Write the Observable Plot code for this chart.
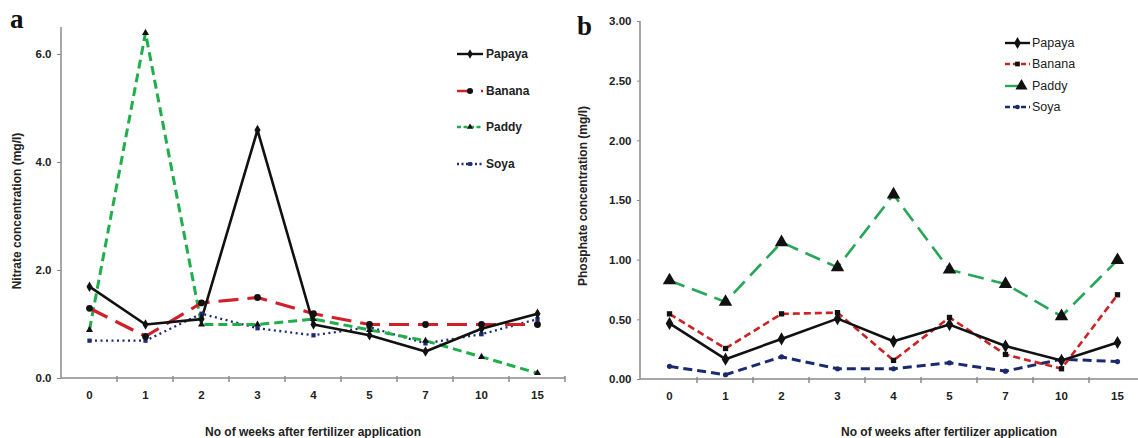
<!DOCTYPE html>
<html><head><meta charset="utf-8">
<script src="https://cdn.jsdelivr.net/npm/d3@7"></script>
<script src="https://cdn.jsdelivr.net/npm/@observablehq/plot@0.6"></script>
<style>
body{margin:0;background:#fff;}
#wrap{position:relative;width:1138px;height:438px;overflow:hidden;background:#fff;}
.panel{position:absolute;top:0;}
.panel svg{max-width:none !important;overflow:visible;}
#overlay{position:absolute;left:0;top:0;pointer-events:none;}
</style></head><body><div id="wrap"></div>
<script>
// ---- data ----
const weeks = ["0","1","2","3","4","5","7","10","15"];
const crops = ["Papaya","Banana","Paddy","Soya"];
const nitratePapaya = [1.7, 1.0, 1.1, 4.6, 1.0, 0.8, 0.5, 0.92, 1.2];
const nitrateBanana = [1.3, 0.78, 1.4, 1.5, 1.2, 1.0, 1.0, 1.0, 1.0];
const nitratePaddy  = [0.9, 6.4, 1.0, 1.0, 1.1, 0.9, 0.7, 0.4, 0.1];
const nitrateSoya   = [0.7, 0.7, 1.2, 0.93, 0.8, 0.95, 0.65, 0.82, 1.1];
const phosphatePapaya = [0.47, 0.17, 0.34, 0.51, 0.32, 0.46, 0.28, 0.16, 0.31];
const phosphateBanana = [0.55, 0.26, 0.55, 0.56, 0.16, 0.52, 0.21, 0.09, 0.71];
const phosphatePaddy  = [0.83, 0.65, 1.15, 0.94, 1.55, 0.92, 0.80, 0.53, 1.00];
const phosphateSoya   = [0.11, 0.04, 0.19, 0.09, 0.09, 0.14, 0.07, 0.17, 0.15];
const nitrateTicks = [0, 2, 4, 6];
const phosphateTicks = [0, 0.5, 1, 1.5, 2, 2.5, 3];

const rows = (vals) => weeks.map((w, i) => ({week: w, value: vals[i]}));

// ---- styles ----
const leftStyles = {
  Papaya: {stroke: "#111", width: 2.6, dash: null, symbol: "diamond", r: 3.2, fill: "#111"},
  Banana: {stroke: "#d0202a", width: 3.2, dash: "20,9", symbol: "circle", r: 3.4, fill: "#111"},
  Paddy:  {stroke: "#1fae4b", width: 3, dash: "9,5", symbol: "triangle", r: 2.6, fill: "#111"},
  Soya:   {stroke: "#1c2a78", width: 2.3, dash: "2,3.5", symbol: "square", r: 2.4, fill: "#1c2a78"}
};
const rightStyles = {
  Papaya: {stroke: "#111", width: 2.6, dash: null, symbol: "diamond", r: 4, fill: "#111"},
  Banana: {stroke: "#cc2222", width: 2.6, dash: "7,4", symbol: "square", r: 3, fill: "#111"},
  Paddy:  {stroke: "#26a659", width: 2.6, dash: "16,8", symbol: "triangle", r: 5, fill: "#111"},
  Soya:   {stroke: "#1b2a6e", width: 3, dash: "9,5", symbol: "circle", r: 2.6, fill: "#1b2a6e"}
};

function panel(cfg) {
  const order = ["Soya", "Paddy", "Banana", "Papaya"];
  const marks = [];
  for (const c of order) {
    const s = cfg.styles[c];
    marks.push(Plot.line(rows(cfg.series[c]), {x: "week", y: "value", stroke: s.stroke, strokeWidth: s.width,
      strokeDasharray: s.dash || undefined, strokeLinejoin: "miter", strokeLinecap: "butt"}));
  }
  for (const c of order) {
    const s = cfg.styles[c];
    marks.push(Plot.dot(rows(cfg.series[c]), {x: "week", y: "value", symbol: s.symbol, r: s.r, fill: s.fill, stroke: "none"}));
  }
  const chart = Plot.plot({
    width: cfg.width, height: 438,
    marginLeft: cfg.marginLeft, marginRight: cfg.marginRight, marginTop: cfg.marginTop, marginBottom: cfg.marginBottom,
    x: {type: "point", domain: weeks, padding: 0.5, tickSize: 0, tickPadding: 12, label: null},
    y: {domain: cfg.yDomain, ticks: cfg.yTicks, tickFormat: cfg.yFormat, tickSize: cfg.yTickSize, tickPadding: cfg.yTickPadding, label: null},
    style: {fontFamily: "'Liberation Sans', Arial, sans-serif", fontSize: "11.5px", fontWeight: "bold", color: "#222", background: "transparent"},
    marks
  });
  // axis lines and band-boundary ticks from the library's scales
  const xs = chart.scale("x"), ys = chart.scale("y");
  const step = xs.apply(weeks[1]) - xs.apply(weeks[0]);
  const y0 = ys.apply(0);
  const g = d3.select(chart).append("g").attr("stroke", "#8a8a8a").attr("stroke-width", 1.5);
  g.append("line").attr("x1", xs.range[0]).attr("x2", xs.range[1]).attr("y1", y0).attr("y2", y0);
  g.append("line").attr("x1", xs.range[0]).attr("x2", xs.range[0]).attr("y1", ys.range[0]).attr("y2", ys.range[1]);
  g.selectAll("line.bt").data(weeks).join("line").attr("class", "bt")
    .attr("x1", d => xs.apply(d) + step / 2).attr("x2", d => xs.apply(d) + step / 2)
    .attr("y1", y0 - 2).attr("y2", y0 + 4);
  d3.select(chart).selectAll('g[aria-label="y-axis tick"]').attr("stroke", "#8a8a8a");
  return chart;
}

const wrap = document.getElementById("wrap");
const leftDiv = document.createElement("div"); leftDiv.className = "panel"; leftDiv.style.left = "0px"; leftDiv.style.width = "570px";
const rightDiv = document.createElement("div"); rightDiv.className = "panel"; rightDiv.style.left = "570px"; rightDiv.style.width = "580px";
wrap.appendChild(leftDiv); wrap.appendChild(rightDiv);

leftDiv.appendChild(panel({
  series: {Papaya: nitratePapaya, Banana: nitrateBanana, Paddy: nitratePaddy, Soya: nitrateSoya},
  styles: leftStyles, width: 570, marginLeft: 61, marginRight: 5, marginTop: 27, marginBottom: 60,
  yDomain: [0, 6.5], yTicks: nitrateTicks, yFormat: d3.format(".1f"), yTickSize: 4, yTickPadding: 6
}));
rightDiv.appendChild(panel({
  series: {Papaya: phosphatePapaya, Banana: phosphateBanana, Paddy: phosphatePaddy, Soya: phosphateSoya},
  styles: rightStyles, width: 580, marginLeft: 70, marginRight: 4, marginTop: 21, marginBottom: 59,
  yDomain: [0, 3], yTicks: phosphateTicks, yFormat: d3.format(".2f"), yTickSize: 3, yTickPadding: 6
}));

// ---- overlay: panel letters, axis titles, legends ----
const ov = d3.select(wrap).append("svg").attr("id", "overlay").attr("width", 1138).attr("height", 438);
const sans = "'Liberation Sans', Arial, sans-serif";
ov.append("text").attr("x", 10).attr("y", 28).text("a")
  .attr("font-family", "'Liberation Serif', 'Times New Roman', serif").attr("font-weight", "bold").attr("font-size", 27).attr("fill", "#111");
ov.append("text").attr("x", 577).attr("y", 35).text("b")
  .attr("font-family", "'Liberation Serif', 'Times New Roman', serif").attr("font-weight", "bold").attr("font-size", 27).attr("fill", "#111");

ov.append("text").attr("transform", "translate(21,211) rotate(-90)").attr("text-anchor", "middle")
  .attr("font-family", sans).attr("font-weight", "bold").attr("font-size", 12).attr("fill", "#222")
  .text("Nitrate concentration (mg/l)");
ov.append("text").attr("transform", "translate(587,196) rotate(-90)").attr("text-anchor", "middle")
  .attr("font-family", sans).attr("font-weight", "bold").attr("font-size", 12).attr("fill", "#222")
  .text("Phosphate concentration (mg/l)");
ov.append("text").attr("x", 313).attr("y", 436).attr("text-anchor", "middle")
  .attr("font-family", sans).attr("font-weight", "bold").attr("font-size", 12).attr("fill", "#222")
  .text("No of weeks after fertilizer application");
ov.append("text").attr("x", 949).attr("y", 436).attr("text-anchor", "middle")
  .attr("font-family", sans).attr("font-weight", "bold").attr("font-size", 12).attr("fill", "#222")
  .text("No of weeks after fertilizer application");

function legend(x0, x1, tx, ys, styles, dashes, font) {
  crops.forEach((c, i) => {
    const s = styles[c], y = ys[i], g = ov.append("g");
    g.append("line").attr("x1", x0).attr("x2", x1).attr("y1", y).attr("y2", y)
      .attr("stroke", s.stroke).attr("stroke-width", Math.min(s.width, 2.4)).attr("stroke-dasharray", dashes[i]);
    g.append("path").attr("transform", `translate(${(x0 + x1) / 2 + (dashes[i] === "13,40" ? 4 : 0)},${y})`)
      .attr("d", d3.symbol(({circle: d3.symbolCircle, diamond: d3.symbolDiamond, square: d3.symbolSquare, triangle: d3.symbolTriangle})[s.symbol], Math.PI * s.r * s.r * 0.8)())
      .attr("fill", s.fill);
    g.append("text").attr("x", tx).attr("y", y).attr("dy", "0.35em").text(c)
      .attr("font-family", sans).attr("font-weight", font.weight).attr("font-size", font.size).attr("fill", "#222");
  });
}
legend(457, 483, 486, [54, 91, 127, 164], leftStyles, [null, "12,12,3", "4,2.5", "2,2.5"], {weight: "bold", size: 12});
legend(1005, 1030, 1032, [43, 64, 86, 107], rightStyles, [null, "5,3", "13,40", "5,3"], {weight: "normal", size: 12.5});
</script>
</body></html>
